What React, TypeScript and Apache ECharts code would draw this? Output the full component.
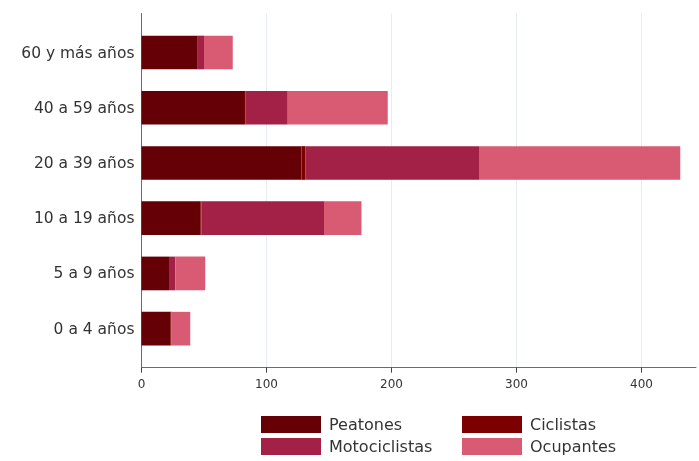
import React, { useEffect, useRef } from "react";
import * as echarts from "echarts";

const categories = ["0 a 4 años", "5 a 9 años", "10 a 19 años", "20 a 39 años", "40 a 59 años", "60 y más años"];
const peatones = [23, 22, 47, 128, 82, 45];
const ciclistas = [1, 0, 1, 3, 1, 0];
const motociclistas = [0, 5, 98, 139, 34, 5];
const ocupantes = [15, 24, 30, 161, 80, 23];
const seriesNames = ["Peatones", "Ciclistas", "Motociclistas", "Ocupantes"];
const seriesColors = ["#640006", "#7c0000", "#a32046", "#d95b73"];
const tickValues = [0, 100, 200, 300, 400];

const X_MAX = 443.6;
const FONT = "DejaVu Sans";
const legendPos = [
  { left: 261, top: 416 },
  { left: 462, top: 416 },
  { left: 261, top: 438 },
  { left: 462, top: 438 },
];

export default function App() {
  const ref = useRef<HTMLDivElement>(null);
  useEffect(() => {
    const chart = echarts.init(ref.current!, undefined, { renderer: "svg" });
    const dataSets = [peatones, ciclistas, motociclistas, ocupantes];
    chart.setOption({
      animation: false,
      textStyle: { fontFamily: FONT },
      grid: [
        { left: 141.5, right: 3, top: 24.9, bottom: 104.7 },
        { left: 141.5, right: 3, top: 13.5, bottom: 93.3 },
      ],
      xAxis: [
        { type: "value", gridIndex: 0, min: 0, max: X_MAX, show: false },
        {
          type: "value",
          gridIndex: 1,
          min: 0,
          max: X_MAX,
          interval: 100,
          axisLine: { show: true, lineStyle: { color: "#6b6b6b", width: 1 } },
          axisTick: { show: true, length: 5, lineStyle: { color: "#444" }, customValues: tickValues },
          axisLabel: { color: "#333", fontSize: 12, margin: 10, fontFamily: FONT, customValues: tickValues },
          splitLine: { show: true, lineStyle: { color: "#e6edf0", width: 1 } },
        },
      ],
      yAxis: [
        {
          type: "category",
          gridIndex: 0,
          data: categories,
          axisLine: { show: false },
          axisTick: { show: false },
          axisLabel: { color: "#333", fontSize: 15.5, margin: 7, fontFamily: FONT },
        },
        {
          type: "value",
          gridIndex: 1,
          min: 0,
          max: 1,
          axisLine: { show: true, lineStyle: { color: "#6b6b6b", width: 1 } },
          axisTick: { show: false },
          axisLabel: { show: false },
          splitLine: { show: false },
        },
      ],
      legend: seriesNames.map((name, i) => ({
        data: [{ name, icon: "rect" }],
        left: legendPos[i].left,
        top: legendPos[i].top,
        padding: 0,
        itemWidth: 60,
        itemHeight: 17,
        textStyle: { fontSize: 16, color: "#333", fontFamily: FONT, padding: [0, 0, 0, 3] },
      })),
      series: seriesNames.map((name, i) => ({
        name,
        type: "bar",
        stack: "total",
        xAxisIndex: 0,
        yAxisIndex: 0,
        barWidth: "61%",
        itemStyle: { color: seriesColors[i] },
        data: dataSets[i],
      })),
    });
    return () => chart.dispose();
  }, []);
  return <div ref={ref} style={{ position: "fixed", left: 0, top: 0, width: 699, height: 461 }} />;
}
